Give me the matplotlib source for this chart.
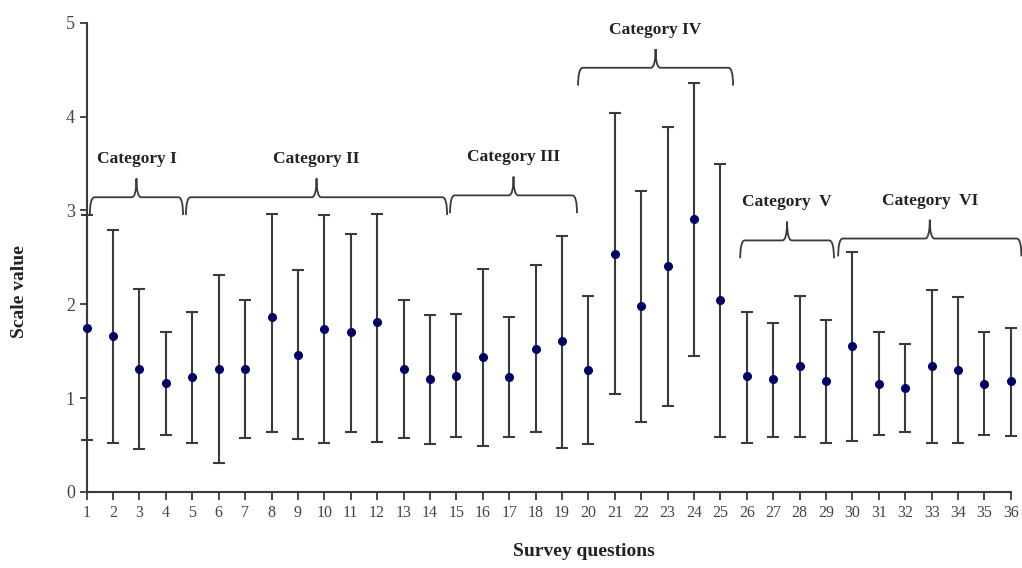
import matplotlib.pyplot as plt
import numpy as np
from matplotlib.path import Path
from matplotlib.patches import PathPatch

plt.rcParams['font.family'] = ['Liberation Serif', 'DejaVu Serif']

questions = list(range(1, 37))
means = [1.75, 1.66, 1.31, 1.16, 1.22, 1.31, 1.31, 1.86, 1.46, 1.74,
         1.70, 1.81, 1.31, 1.20, 1.24, 1.44, 1.22, 1.52, 1.61, 1.30,
         2.53, 1.98, 2.41, 2.91, 2.04, 1.23, 1.20, 1.34, 1.18, 1.55,
         1.15, 1.11, 1.34, 1.30, 1.15, 1.18]
lower = [0.55, 0.52, 0.46, 0.61, 0.52, 0.31, 0.57, 0.64, 0.56, 0.52,
         0.64, 0.53, 0.57, 0.51, 0.58, 0.49, 0.58, 0.64, 0.47, 0.51,
         1.04, 0.74, 0.92, 1.45, 0.58, 0.52, 0.58, 0.58, 0.52, 0.54,
         0.61, 0.64, 0.52, 0.52, 0.61, 0.60]
upper = [2.95, 2.79, 2.16, 1.70, 1.92, 2.31, 2.05, 2.96, 2.37, 2.95,
         2.75, 2.96, 2.05, 1.88, 1.90, 2.38, 1.86, 2.42, 2.73, 2.09,
         4.04, 3.21, 3.89, 4.36, 3.49, 1.92, 1.80, 2.09, 1.83, 2.56,
         1.70, 1.58, 2.15, 2.08, 1.70, 1.75]

categories = ['Category I', 'Category II', 'Category III', 'Category IV',
              'Category  V', 'Category  VI']
# brace extents (annotation layout)
brace_left = [1.12, 4.76, 14.76, 19.61, 25.75, 29.46]
brace_right = [4.65, 14.65, 19.57, 25.48, 29.30, 36.40]
brace_y = [3.14, 3.14, 3.16, 4.52, 2.68, 2.70]

GREY = '#3a3a3a'


def draw_brace(ax, x0, x1, y, drop=0.19, tip=0.2, r=0.18):
    xm = (x0 + x1) / 2
    verts = [(x0, y - drop), (x0, y), (x0 + r, y),
             (xm - r, y), (xm, y), (xm, y + tip),
             (xm, y), (xm + r, y),
             (x1 - r, y), (x1, y), (x1, y - drop)]
    codes = [Path.MOVETO, Path.CURVE3, Path.CURVE3,
             Path.LINETO, Path.CURVE3, Path.CURVE3,
             Path.CURVE3, Path.CURVE3,
             Path.LINETO, Path.CURVE3, Path.CURVE3]
    patch = PathPatch(Path(verts, codes), facecolor='none', edgecolor=GREY,
                      lw=1.3, clip_on=False)
    ax.add_patch(patch)
    return xm, y + tip


fig = plt.figure(figsize=(10.22, 5.68), dpi=100)
ax = fig.add_axes([0.0848, 0.134, 0.9043, 0.826])

means_a = np.array(means)
yerr = [means_a - np.array(lower), np.array(upper) - means_a]
ax.errorbar(questions, means, yerr=yerr, fmt='o', color='#000066',
            markersize=5.5, ecolor=GREY, elinewidth=1.5, capsize=4,
            capthick=1.5, clip_on=False, zorder=3)

for name, x0, x1, y in zip(categories, brace_left, brace_right, brace_y):
    xm, ytop = draw_brace(ax, x0, x1, y)
    ax.text(xm, ytop + 0.12, name, ha='center', va='bottom',
            fontsize=12.5, fontweight='bold', color='#222222')

ax.set_xlim(1, 36)
ax.set_ylim(0, 5)
ax.set_xticks(questions)
ax.set_yticks(range(6))
ax.tick_params(axis='x', labelsize=11.5, colors=GREY, length=6, width=1.3,
               labelcolor='#444444')
ax.tick_params(axis='y', labelsize=13, colors=GREY, length=5, width=1.3,
               labelcolor='#444444')
for s in ['top', 'right']:
    ax.spines[s].set_visible(False)
for s in ['left', 'bottom']:
    ax.spines[s].set_color(GREY)
    ax.spines[s].set_linewidth(1.5)

ax.set_ylabel('Scale value', fontsize=14, fontweight='bold', color='#222222')
ax.yaxis.set_label_coords(-0.063, 0.426)
ax.set_xlabel('Survey questions', fontsize=14, fontweight='bold', color='#222222')
ax.xaxis.set_label_coords(0.538, -0.11)

fig.savefig('out.png', dpi=100)
